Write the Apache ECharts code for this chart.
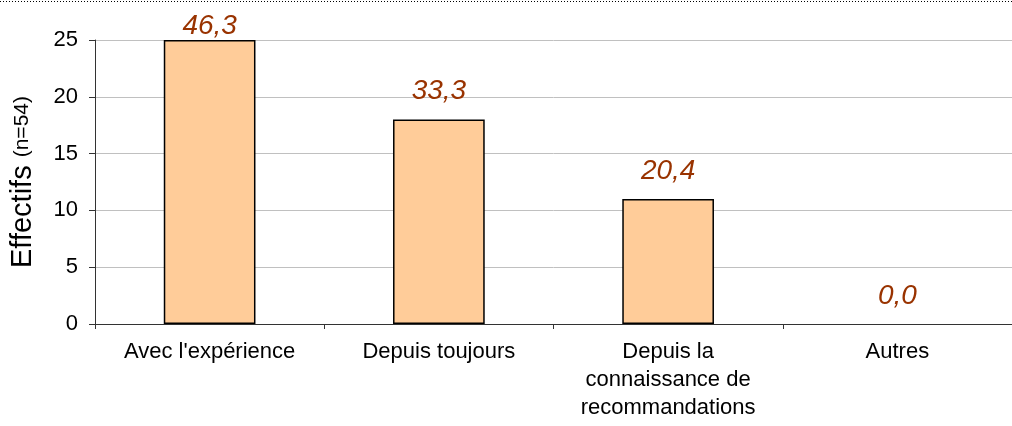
<!DOCTYPE html>
<html>
<head>
<meta charset="utf-8">
<script src="https://cdn.jsdelivr.net/npm/echarts@6/dist/echarts.min.js"></script>
<style>html,body{margin:0;padding:0;background:#fff}#c{width:1012px;height:426px}</style>
</head>
<body>
<div id="c"></div>
<script>
var categories = ["Avec l'expérience", "Depuis toujours", "Depuis la\nconnaissance de\nrecommandations", "Autres"];
var counts = [25, 18, 11, 0];
var percents = ["46,3", "33,3", "20,4", "0,0"];
var yTicks = [0, 5, 10, 15, 20, 25];

var FONT = "'Liberation Sans', Arial, sans-serif";
var chart = echarts.init(document.getElementById('c'));
var data = counts.map(function (v, i) {
  var item = { value: v };
  if (i === 0) item.label = { distance: 0 };
  if (v === 0) item.itemStyle = { borderWidth: 0 };
  return item;
});
chart.setOption({
  animation: false,
  grid: { left: 95, right: 0, top: 40, bottom: 102, outerBoundsMode: 'none', containLabel: false },
  graphic: [{
    type: 'line', shape: { x1: 0, y1: 1.5, x2: 1012, y2: 1.5 },
    style: { stroke: '#000', lineWidth: 1, lineDash: [1, 2] }
  }],
  xAxis: {
    type: 'category', data: categories,
    axisLine: { lineStyle: { color: '#333', width: 1 } },
    axisTick: { show: true, length: 5, lineStyle: { color: '#333' } },
    axisLabel: { color: '#000', fontFamily: FONT, fontSize: 22, lineHeight: 28, margin: 14, interval: 0 }
  },
  yAxis: {
    type: 'value', min: yTicks[0], max: yTicks[yTicks.length - 1], interval: 5,
    name: '{a|Effectifs }{b|(n=54)}', nameLocation: 'middle', nameGap: 58,
    nameTextStyle: {
      rich: {
        a: { fontFamily: FONT, fontSize: 29, color: '#000' },
        b: { fontFamily: FONT, fontSize: 21, color: '#000' }
      }
    },
    axisLine: { show: true, lineStyle: { color: '#333', width: 1 } },
    axisTick: { show: true, length: 6, inside: false, lineStyle: { color: '#333' } },
    axisLabel: { color: '#000', fontFamily: FONT, fontSize: 22, margin: 17 },
    splitLine: { show: true, lineStyle: { color: '#c0c0c0', width: 1 } }
  },
  series: [{
    type: 'bar', data: data, barWidth: '40%',
    itemStyle: { color: '#FFCC99', borderColor: '#000', borderWidth: 1.5 },
    label: {
      show: true, position: 'top', distance: 14,
      formatter: function (p) { return percents[p.dataIndex]; },
      fontFamily: FONT, fontSize: 28, fontStyle: 'italic', color: '#993300'
    }
  }]
});
</script>
</body>
</html>
